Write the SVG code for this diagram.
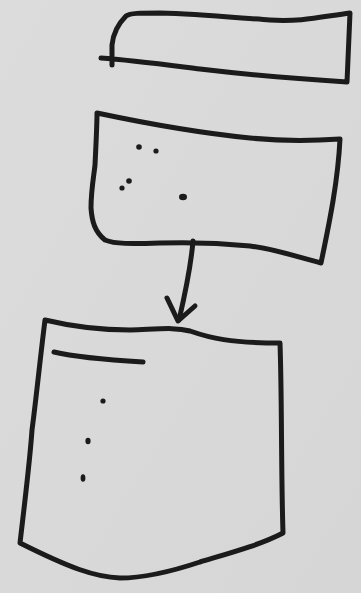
<svg xmlns="http://www.w3.org/2000/svg" width="361" height="593" viewBox="0 0 361 593">
<style>
.ink{fill:none;stroke:#1b1b1b;stroke-width:5;stroke-linecap:round;stroke-linejoin:round}
.dot{fill:#1b1b1b}
</style>
<defs>
<linearGradient id="bg" x1="0" y1="0" x2="1" y2="1">
<stop offset="0" stop-color="#dcdcdc"/>
<stop offset="1" stop-color="#d6d6d6"/>
</linearGradient>
</defs>
<rect width="361" height="593" fill="url(#bg)"/>
<g id="node-top">
<path class="ink" d="M101,58 C130,60 160,64 200,69 C250,75 300,79 347,82 C348,60 349,35 350,13 C320,17 300,22 270,20 C240,18 200,14 160,13 C140,13 130,13 126,16 C118,24 113,35 112,45 L112,65"/>
</g>
<g id="node-middle">
<path class="ink" d="M97,113 C130,120 190,132 250,138 C280,141 310,141 340,139 C338,180 330,220 321,263 C300,258 280,250 250,246 C220,243 190,242 160,243 C130,244 115,244 105,240 C95,232 92,222 91,208 C91,190 94,175 95,165 C96,145 97,125 97,113 Z"/>
<circle class="dot" cx="139" cy="147" r="2.8"/>
<circle class="dot" cx="156" cy="151" r="2.6"/>
<circle class="dot" cx="129" cy="181" r="2.8"/>
<circle class="dot" cx="122" cy="188" r="2.6"/>
<ellipse class="dot" cx="183" cy="197" rx="4" ry="3.2"/>
</g>
<g id="connectors">
<path class="ink" d="M193,241 C191,265 186,290 179,320"/>
<path class="ink" d="M167,298 L178,321 L195,306"/>
</g>
<g id="node-bottom">
<path class="ink" d="M45,320 C70,326 100,330 130,330 C160,329 175,327 190,331 C210,338 230,343 280,343 C282,400 281,470 283,533 C260,545 230,553 200,562 C170,572 140,578 120,578 C95,577 70,568 20,543 C25,500 30,460 32,430 C36,400 40,360 45,320 Z"/>
<path class="ink" d="M54,352 C75,357 110,360 143,362"/>
<circle class="dot" cx="103" cy="401" r="2.6"/>
<ellipse class="dot" cx="88" cy="441" rx="2.6" ry="3.2"/>
<ellipse class="dot" cx="83" cy="478" rx="2.4" ry="3.8"/>
</g>
</svg>
